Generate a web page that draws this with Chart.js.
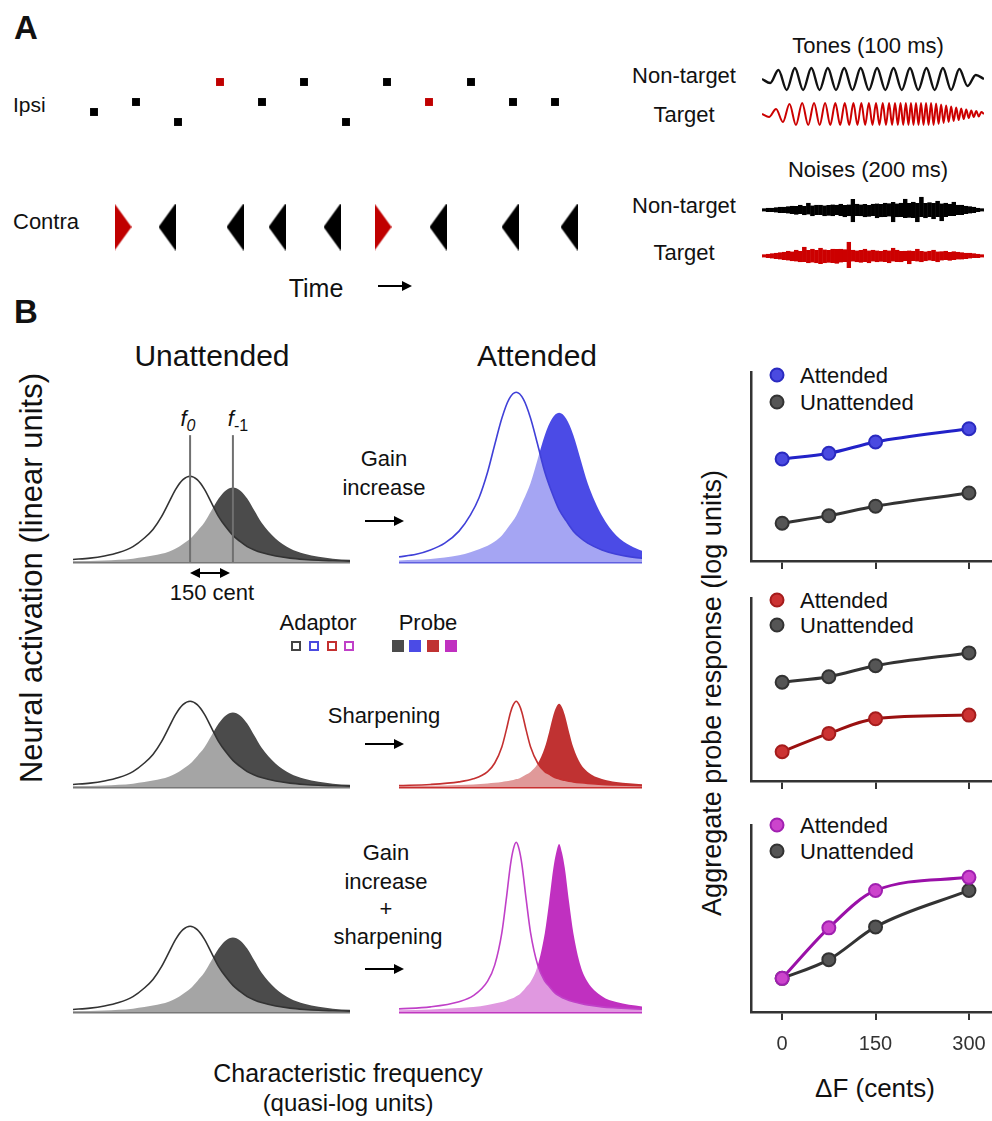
<!DOCTYPE html>
<html>
<head>
<meta charset="utf-8">
<script src="https://cdn.jsdelivr.net/npm/chart.js@4.4.0/dist/chart.umd.min.js"></script>
<style>
  html, body { margin: 0; padding: 0; background: #fff; }
  body { width: 992px; height: 1121px; position: relative; overflow: hidden;
         font-family: "Liberation Sans", Arial, sans-serif; color: #111; }
  canvas { position: absolute; }
  .t { position: absolute; white-space: nowrap; line-height: 1; transform: translate(-50%, -50%); }
  .l { position: absolute; white-space: nowrap; line-height: 1; transform: translateY(-50%); }
  .rot { position: absolute; white-space: nowrap; line-height: 1; transform: translate(-50%, -50%) rotate(-90deg); }
  .arr { position: absolute; height: 2px; background: #000; }
  .arr::after { content: ''; position: absolute; right: -2px; top: -4px;
                border-left: 10px solid #000; border-top: 5px solid transparent; border-bottom: 5px solid transparent; }
  .arr.dbl::before { content: ''; position: absolute; left: -2px; top: -4px;
                border-right: 10px solid #000; border-top: 5px solid transparent; border-bottom: 5px solid transparent; }
  .dot { position: absolute; width: 11px; height: 11px; border-radius: 50%; border: 2px solid; transform: translate(-50%, -50%); }
  .sq { position: absolute; box-sizing: border-box; }
</style>
</head>
<body>

<!-- panel A -->
<div class="l" style="left:14px;top:27px;font-size:33px;font-weight:bold">A</div>
<div class="l" style="left:13px;top:104px;font-size:21px">Ipsi</div>
<div class="l" style="left:13px;top:222px;font-size:22px">Contra</div>
<div class="t" style="left:316px;top:288px;font-size:25px">Time</div>
<div class="arr" style="left:378px;top:285px;width:32px"></div>

<div class="t" style="left:868px;top:46px;font-size:22px">Tones (100 ms)</div>
<div class="t" style="left:684px;top:76px;font-size:22px">Non-target</div>
<div class="t" style="left:684px;top:115px;font-size:22px">Target</div>
<div class="t" style="left:868px;top:170px;font-size:22px">Noises (200 ms)</div>
<div class="t" style="left:684px;top:206px;font-size:22px">Non-target</div>
<div class="t" style="left:684px;top:253px;font-size:22px">Target</div>

<!-- panel B -->
<div class="l" style="left:14px;top:311px;font-size:33px;font-weight:bold">B</div>
<div class="t" style="left:212px;top:356px;font-size:30px">Unattended</div>
<div class="t" style="left:537px;top:356px;font-size:30px">Attended</div>
<div class="rot" style="left:31px;top:578px;font-size:31px">Neural activation (linear units)</div>

<div class="t" style="left:188px;top:421px;font-size:22px"><i>f</i><sub style="font-size:16px"><i>0</i></sub></div>
<div class="t" style="left:238px;top:421px;font-size:22px"><i>f</i><sub style="font-size:16px">-1</sub></div>
<div class="arr dbl" style="left:192px;top:572px;width:36px"></div>
<div class="t" style="left:212px;top:593px;font-size:22px">150 cent</div>

<div class="t" style="left:384px;top:459px;font-size:22px">Gain</div>
<div class="t" style="left:384px;top:488px;font-size:22px">increase</div>
<div class="arr" style="left:365px;top:520px;width:37px"></div>
<div class="t" style="left:384px;top:716px;font-size:22px">Sharpening</div>
<div class="arr" style="left:365px;top:743px;width:37px"></div>
<div class="t" style="left:386px;top:853px;font-size:22px">Gain</div>
<div class="t" style="left:386px;top:882px;font-size:22px">increase</div>
<div class="t" style="left:386px;top:909px;font-size:22px">+</div>
<div class="t" style="left:388px;top:937px;font-size:22px">sharpening</div>
<div class="arr" style="left:365px;top:968px;width:37px"></div>

<div class="t" style="left:318px;top:623px;font-size:22px">Adaptor</div>
<div class="t" style="left:428px;top:623px;font-size:22px">Probe</div>
<div class="sq" style="left:291px;top:641px;width:10px;height:10px;border:2px solid #444"></div>
<div class="sq" style="left:309px;top:641px;width:10px;height:10px;border:2px solid #4a4ae0"></div>
<div class="sq" style="left:327px;top:641px;width:10px;height:10px;border:2px solid #c43030"></div>
<div class="sq" style="left:344px;top:641px;width:10px;height:10px;border:2px solid #c040c8"></div>
<div class="sq" style="left:392px;top:640px;width:12px;height:12px;background:#4b4b4b"></div>
<div class="sq" style="left:409px;top:640px;width:12px;height:12px;background:#4b4be6"></div>
<div class="sq" style="left:427px;top:640px;width:12px;height:12px;background:#c03232"></div>
<div class="sq" style="left:445px;top:640px;width:12px;height:12px;background:#c030c0"></div>

<div class="t" style="left:348px;top:1073px;font-size:25px">Characteristic frequency</div>
<div class="t" style="left:348px;top:1103px;font-size:24px">(quasi-log units)</div>

<div class="rot" style="left:712px;top:693px;font-size:27px">Aggregate probe response (log units)</div>
<div class="t" style="left:875px;top:1088px;font-size:26px">&Delta;F (cents)</div>

<span class="dot" style="left:777px;top:375px;background:#4a4ae0;border-color:#2a2ac0"></span>
<div class="l" style="left:800px;top:376px;font-size:22px">Attended</div>
<span class="dot" style="left:777px;top:402px;background:#555;border-color:#333"></span>
<div class="l" style="left:800px;top:403px;font-size:22px">Unattended</div>

<span class="dot" style="left:777px;top:600px;background:#cc3333;border-color:#a51c1c"></span>
<div class="l" style="left:800px;top:601px;font-size:22px">Attended</div>
<span class="dot" style="left:777px;top:625px;background:#555;border-color:#333"></span>
<div class="l" style="left:800px;top:626px;font-size:22px">Unattended</div>

<span class="dot" style="left:777px;top:825px;background:#cc44cc;border-color:#a020b0"></span>
<div class="l" style="left:800px;top:826px;font-size:22px">Attended</div>
<span class="dot" style="left:777px;top:851px;background:#555;border-color:#333"></span>
<div class="l" style="left:800px;top:852px;font-size:22px">Unattended</div>

<script>
// ---- panel A: stimulus sequence ----
const ipsiTimes = [34, 76, 118, 160, 202, 244, 286, 327, 369, 411, 453, 495];
const ipsiPitch = [-1, 0, -2, 2, 0, 2, -2, 2, 0, 2, 0, 0];
const ipsiTarget = [0, 0, 0, 1, 0, 0, 0, 0, 1, 0, 0, 0];
const contraTimes = [63, 107, 175, 217, 272, 323, 378, 450, 509];
const contraTarget = [1, 0, 0, 0, 0, 1, 0, 0, 0];

// tone waveforms (extrema, px amplitude)
const blackTone = [0, -4, 9, -11, 11, -11, 11, -11, 11, -11, 11, -11, 11, -11, 11, -11, 11, -11, 11, -11, 11, -11, 11, -11, 10, -7, 4, 0];
const redToneX = [0, 7, 14, 20.8, 27.4, 33.8, 40, 46, 51.8, 57.4, 62.8, 68, 73, 77.8, 82.4, 86.8, 91, 95, 98.9, 102.7,
  106.4, 110, 113.5, 116.9, 120.2, 123.4, 126.5, 129.5, 132.4, 135.2, 137.9, 140.6, 143.2, 145.8, 148.3, 150.8, 153.3,
  155.8, 158.3, 160.8, 163.3, 165.8, 168.3, 170.8, 173.3, 175.8, 178.3, 180.8, 183.3, 185.8, 188.3, 190.8, 193.3, 195.8,
  198.3, 200.8, 203.3, 205.8, 208.3, 210.8, 213.3, 215.8, 218.3, 221];
const redTone = [0, -3, 5, -8, 10, -11, 11, -11, 11, -11, 11, -11, 11, -11, 11, -11, 11, -11, 11, -11, 11, -11, 11, -11,
  11, -11, 11, -11, 11, -11, 11, -11, 11, -11, 11, -11, 11, -11, 11, -11, 11, -11, 11, -11,
  10.5, -10, 9.5, -9, 8.5, -8, 7.5, -7, 6.5, -6, 5.5, -5, 4.5, -4, 3.5, -3, 3, -2.5, 2, 0];

// noise envelopes (px above / below centre)
const noiseBlackHi = [1.5, 2, 2, 2.5, 3, 3, 3.5, 4, 4, 5, 4, 7, 4.5, 5, 5, 4.5, 5, 5.5, 5, 6, 5, 5.5, 11, 6, 5.5, 6, 5, 6, 6.5, 6,
  7, 6.5, 8, 6.5, 7, 11, 7, 8, 7, 13, 7, 7.5, 7, 9, 6.5, 7, 6, 8, 5, 5, 4, 3.5, 3, 2, 1.5];
const noiseBlackLo = [1.5, 2, 2, 2.5, 3, 3, 3.5, 4, 4.5, 4, 5, 4.5, 6, 5, 5, 6, 5.5, 6, 5, 6, 7, 6, 12, 6, 6, 7, 6.5, 6, 8, 7,
  7, 6.5, 12, 7, 7, 8, 7.5, 8, 12, 7, 8, 7, 9, 7, 11, 7, 6, 6, 5, 5, 4, 3.5, 3, 2, 1.5];
const noiseRedHi = [1.5, 2, 2.5, 3, 3.5, 4, 5, 4.5, 6, 5, 9, 6, 7, 6, 8, 6.5, 6, 7, 7, 7, 6.5, 14, 6, 5.5, 6, 7, 5.5, 6, 5.5, 5,
  6, 5.5, 8, 6, 5, 5, 5.5, 5, 7, 5, 4.5, 5, 6, 4.5, 4.5, 5, 4, 4.5, 4, 3.5, 3, 3, 2.5, 2, 1.5];
const noiseRedLo = [1.5, 2, 2.5, 3, 3.5, 4, 4.5, 5, 5.5, 6, 6, 7, 6.5, 7, 8, 7, 6.5, 7, 7.5, 6.5, 6, 12, 5.5, 6, 6.5, 6, 7, 5.5, 6, 5.5,
  6, 7, 5.5, 6, 6, 5, 8, 5, 5.5, 6, 5, 4.5, 5, 6, 4.5, 4, 4.5, 4, 3.5, 3.5, 3, 2.5, 2, 2, 1.5];

// ---- panel B: tuning curves (x in cents re f0, y in linear units) ----
const unattX = [-410, -350, -300, -250, -200, -160, -130, -100, -75, -50, -25, 0, 25, 50, 75, 100, 125, 150, 175, 200, 225, 250, 300, 350, 400, 450, 500, 560];
const unattAdaptor = [0.03, 0.045, 0.07, 0.11, 0.18, 0.28, 0.38, 0.53, 0.69, 0.85, 0.96, 1, 0.96, 0.85, 0.69, 0.53, 0.41, 0.31, 0.24, 0.18, 0.14, 0.11, 0.07, 0.045, 0.03, 0.02, 0.015, 0.01];
const unattProbe = [0.009, 0.013, 0.017, 0.026, 0.039, 0.057, 0.075, 0.096, 0.12, 0.157, 0.21, 0.27, 0.36, 0.46, 0.6, 0.74, 0.835, 0.87, 0.835, 0.74, 0.6, 0.46, 0.27, 0.157, 0.096, 0.061, 0.039, 0.025];
const gainAdaptor = [0.06, 0.09, 0.14, 0.22, 0.36, 0.55, 0.75, 1.05, 1.37, 1.68, 1.9, 1.98, 1.9, 1.68, 1.37, 1.05, 0.81, 0.61, 0.48, 0.36, 0.28, 0.22, 0.14, 0.09, 0.06, 0.04, 0.03, 0.02];
const gainProbe = [0.018, 0.026, 0.034, 0.052, 0.078, 0.114, 0.15, 0.19, 0.24, 0.31, 0.42, 0.54, 0.72, 0.92, 1.2, 1.48, 1.67, 1.74, 1.67, 1.48, 1.2, 0.92, 0.54, 0.31, 0.19, 0.12, 0.078, 0.05];

const sharpX = [-410, -300, -200, -150, -100, -75, -50, -35, -20, -10, 0, 10, 20, 35, 50, 75, 100, 115, 130, 140, 150, 160, 170, 185, 200, 225, 250, 300, 350, 450];
const sharpAdaptor = [0.018, 0.03, 0.06, 0.095, 0.18, 0.28, 0.47, 0.66, 0.87, 0.96, 1, 0.96, 0.87, 0.66, 0.47, 0.28, 0.18, 0.15, 0.12, 0.105, 0.095, 0.085, 0.078, 0.068, 0.06, 0.05, 0.042, 0.03, 0.024, 0.015];
const sharpProbe = [0.01, 0.015, 0.023, 0.029, 0.041, 0.049, 0.058, 0.066, 0.076, 0.082, 0.092, 0.1, 0.116, 0.146, 0.175, 0.27, 0.46, 0.64, 0.84, 0.93, 0.97, 0.93, 0.84, 0.64, 0.46, 0.27, 0.175, 0.092, 0.058, 0.029];
const bothAdaptor = [0.036, 0.06, 0.12, 0.19, 0.36, 0.55, 0.93, 1.31, 1.72, 1.9, 1.98, 1.9, 1.72, 1.31, 0.93, 0.55, 0.36, 0.3, 0.24, 0.21, 0.19, 0.17, 0.155, 0.135, 0.12, 0.1, 0.083, 0.06, 0.048, 0.03];
const bothProbe = [0.02, 0.03, 0.046, 0.058, 0.082, 0.098, 0.116, 0.132, 0.152, 0.164, 0.184, 0.2, 0.232, 0.292, 0.35, 0.54, 0.92, 1.28, 1.68, 1.86, 1.96, 1.86, 1.68, 1.28, 0.92, 0.54, 0.35, 0.184, 0.116, 0.058];

const markerFreqs = [0, 150];   // f0 and f-1
const markerHeight = 1.48;

// ---- panel B: aggregate probe response ----
const deltaF = [0, 75, 150, 300];
const gainAttResp = [5.4, 5.7, 6.3, 7.0];
const gainUnattResp = [2.0, 2.4, 2.9, 3.6];
const sharpAttResp = [1.6, 2.6, 3.4, 3.6];
const sharpUnattResp = [5.4, 5.7, 6.3, 7.0];
const bothAttResp = [1.8, 4.5, 6.5, 7.2];
const bothUnattResp = [1.8, 2.8, 4.55, 6.5];

Chart.defaults.font.family = '"Liberation Sans", Arial, sans-serif';
Chart.defaults.color = '#222';

function makeCanvas(left, top, w, h) {
  const c = document.createElement('canvas');
  c.width = w; c.height = h;
  c.style.left = left + 'px'; c.style.top = top + 'px';
  c.style.width = w + 'px'; c.style.height = h + 'px';
  document.body.appendChild(c);
  return c;
}

const baseOpts = {
  responsive: false,
  animation: false,
  events: [],
  plugins: { legend: { display: false }, tooltip: { enabled: false } }
};
const noPad = { padding: 0, autoPadding: false };

function triangle(color, pointRight) {
  const c = document.createElement('canvas');
  c.width = 17; c.height = 47;
  const g = c.getContext('2d');
  g.fillStyle = color;
  g.beginPath();
  if (pointRight) { g.moveTo(0, 0); g.lineTo(17, 23.5); g.lineTo(0, 47); }
  else { g.moveTo(17, 0); g.lineTo(0, 23.5); g.lineTo(17, 47); }
  g.closePath();
  g.fill();
  return c;
}
const triTarget = triangle('#c00000', true);
const triOther = triangle('#000', false);

// ipsi squares
new Chart(makeCanvas(60, 72, 540, 60), {
  type: 'scatter',
  data: { datasets: [{
    data: ipsiTimes.map((t, i) => ({ x: t, y: ipsiPitch[i] })),
    pointStyle: 'rect',
    pointRadius: 5.6,
    borderWidth: 0,
    backgroundColor: ipsiTarget.map(v => v ? '#c00000' : '#000')
  }] },
  options: { ...baseOpts, layout: noPad,
    scales: { x: { display: false, min: 0, max: 540 }, y: { display: false, min: -3, max: 3 } } }
});

// contra triangles
new Chart(makeCanvas(60, 197, 540, 60), {
  type: 'scatter',
  data: { datasets: [{
    data: contraTimes.map(t => ({ x: t, y: 0 })),
    pointStyle: contraTarget.map(v => v ? triTarget : triOther),
    pointRadius: 10
  }] },
  options: { ...baseOpts, layout: noPad,
    scales: { x: { display: false, min: 0, max: 540 }, y: { display: false, min: -1, max: 1 } } }
});

// tones
new Chart(makeCanvas(762, 63, 222, 32), {
  type: 'line',
  data: { labels: blackTone.map((v, i) => i), datasets: [{
    data: blackTone, borderColor: '#111', borderWidth: 2.4, pointRadius: 0, cubicInterpolationMode: 'monotone'
  }] },
  options: { ...baseOpts, layout: noPad,
    scales: { x: { display: false, offset: false }, y: { display: false, min: -16, max: 16 } } }
});
new Chart(makeCanvas(762, 98, 222, 32), {
  type: 'line',
  data: { datasets: [{
    data: redToneX.map((x, i) => ({ x, y: redTone[i] })),
    borderColor: '#cc0000', borderWidth: 2, pointRadius: 0, cubicInterpolationMode: 'monotone'
  }] },
  options: { ...baseOpts, layout: noPad,
    scales: { x: { type: 'linear', display: false, min: 0, max: 221 }, y: { display: false, min: -16, max: 16 } } }
});

// noises
function noiseChart(top, hi, lo, color) {
  new Chart(makeCanvas(762, top, 222, 40), {
    type: 'bar',
    data: { labels: hi.map((v, i) => i), datasets: [{
      data: hi.map((h, i) => [-lo[i], h]),
      backgroundColor: color, borderColor: color, borderWidth: 0.6,
      barPercentage: 1, categoryPercentage: 1
    }] },
    options: { ...baseOpts, layout: noPad,
      scales: { x: { display: false }, y: { display: false, min: -20, max: 20 } } }
  });
}
noiseChart(190, noiseBlackHi, noiseBlackLo, '#000');
noiseChart(236, noiseRedHi, noiseRedLo, '#cc0000');

// tuning curves
function tuningChart(left, baseline, width, xMax, xs, adaptor, probe, col, markers) {
  const datasets = [
    { data: xs.map((x, i) => ({ x, y: adaptor[i] })), borderColor: col.line, borderWidth: 1.6,
      fill: 'origin', backgroundColor: 'rgba(255,255,255,0.5)', pointRadius: 0, cubicInterpolationMode: 'monotone' },
    { data: xs.map((x, i) => ({ x, y: probe[i] })), borderWidth: 0, borderColor: col.fill,
      fill: 'origin', backgroundColor: col.fill, pointRadius: 0, cubicInterpolationMode: 'monotone' }
  ];
  if (markers) {
    markerFreqs.forEach(f => datasets.push({
      data: [{ x: f, y: 0 }, { x: f, y: markerHeight }], borderColor: '#707070', borderWidth: 2,
      pointRadius: 0, fill: false, order: -1
    }));
  }
  new Chart(makeCanvas(left, baseline - 182, width, 184), {
    type: 'line',
    data: { datasets },
    options: { ...baseOpts, layout: { autoPadding: false, padding: { top: 2, bottom: 2, left: 0, right: 0 } },
      scales: {
        x: { type: 'linear', min: -410, max: xMax, grid: { display: false, drawTicks: false },
             ticks: { display: false }, border: { display: true, color: col.base, width: 2.5 } },
        y: { display: false, min: 0, max: 2.1 }
      } }
  });
}
const grayCol = { line: '#333', fill: '#4b4b4b', base: '#777' };
tuningChart(73, 562, 277, 560, unattX, unattAdaptor, unattProbe, grayCol, true);
tuningChart(399, 562, 243, 440, unattX, gainAdaptor, gainProbe, { line: '#4040d8', fill: '#4b4be6', base: '#6060e0' });
tuningChart(73, 787, 277, 560, unattX, unattAdaptor, unattProbe, grayCol);
tuningChart(399, 787, 243, 440, sharpX, sharpAdaptor, sharpProbe, { line: '#c43030', fill: '#c03232', base: '#c83030' });
tuningChart(73, 1012, 277, 560, unattX, unattAdaptor, unattProbe, grayCol);
tuningChart(399, 1012, 243, 440, sharpX, bothAdaptor, bothProbe, { line: '#c040c8', fill: '#c030c0', base: '#c038c0' });

// aggregate response panels
function respChart(top, bottom, att, unatt, col, showLabels) {
  const h = (bottom - top) + 4 + 2 + (showLabels ? 56 : 8);
  const series = (vals, line, fill, edge) => ({
    data: deltaF.map((x, i) => ({ x, y: vals[i] })),
    borderColor: line, borderWidth: 3, cubicInterpolationMode: 'monotone',
    pointRadius: 6.5, pointBackgroundColor: fill, pointBorderColor: edge, pointBorderWidth: 2
  });
  new Chart(makeCanvas(749, top - 4, 243, h), {
    type: 'line',
    data: { datasets: [
      series(att, col.line, col.fill, col.edge),
      series(unatt, '#333', '#555', '#333')
    ] },
    options: { ...baseOpts, clip: false, layout: { autoPadding: false, padding: { top: 4, bottom: 2, left: 2, right: 0 } },
      scales: {
        x: { type: 'linear', min: -50, max: 337,
             afterBuildTicks: s => { s.ticks = deltaF.filter(v => v % 150 === 0).map(v => ({ value: v })); },
             afterFit: s => { s.paddingLeft = 0; s.paddingRight = 0; },
             grid: { display: true, drawOnChartArea: false, drawTicks: true, tickLength: 8, color: '#333', lineWidth: 2 },
             border: { display: true, color: '#333', width: 2.5 },
             ticks: { display: showLabels, padding: 12, color: '#333', font: { size: 20 } } },
        y: { min: 0, max: 10, grid: { display: false, drawTicks: false }, ticks: { display: false },
             border: { display: true, color: '#333', width: 2.5 } }
      } }
  });
}
respChart(372, 561, gainAttResp, gainUnattResp, { line: '#2222c8', fill: '#4a4ae0', edge: '#2a2ac0' }, false);
respChart(598, 781, sharpAttResp, sharpUnattResp, { line: '#9a1010', fill: '#cc3333', edge: '#a51c1c' }, false);
respChart(825, 1012, bothAttResp, bothUnattResp, { line: '#9a10a8', fill: '#cc44cc', edge: '#a020b0' }, true);
</script>
</body>
</html>
